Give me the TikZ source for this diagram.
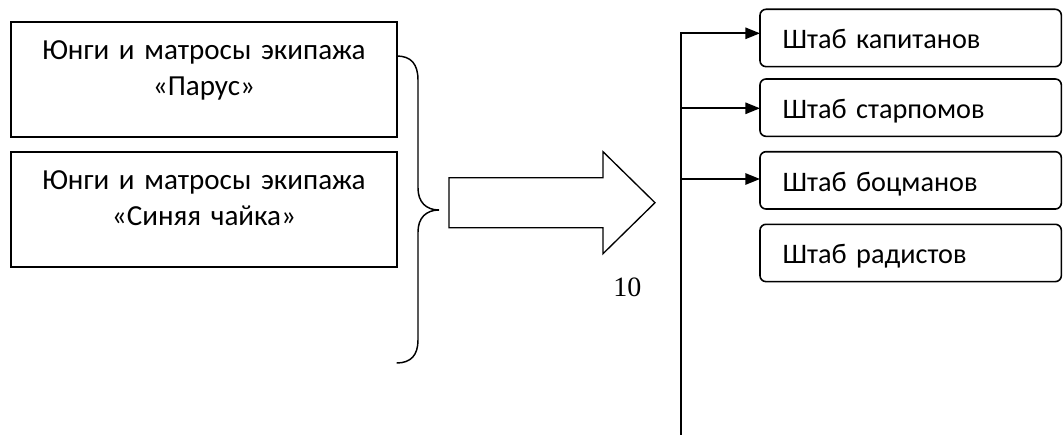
\documentclass[tikz,border=0pt]{standalone}
\usepackage{fontspec}
\setmainfont{Carlito}
\newfontfamily\numfont{Liberation Serif}
\usetikzlibrary{arrows.meta}

\begin{document}
\begin{tikzpicture}[x=0.75pt,y=-0.75pt,
  crewBox/.style={draw,line width=1.5pt,outer sep=0pt,inner xsep=4pt,inner ysep=0pt,
    text width=281.5pt,align=center,text height=28.7pt,text depth=57.55pt,
    font=\fontsize{21.8}{27}\selectfont},
  staffBox/.style={draw,line width=1.2pt,outer sep=0pt,rounded corners=4.5pt,
    inner xsep=17pt,inner ysep=0pt,text width=192pt,align=left,
    text height=29.5pt,text depth=13.5pt,font=\fontsize{21.2}{25}\selectfont},
  feed/.style={line width=1.4pt,-{Triangle[length=11pt,width=8.5pt]}}]
  \useasboundingbox (0,0) rectangle (1064,435);

  \node[crewBox,anchor=north west] (parus) at (11,21.7) {Юнги и матросы экипажа\\«Парус»};
  \node[crewBox,anchor=north west] (chaika) at (11,151.7) {Юнги и матросы экипажа\\«Синяя чайка»};

  \draw[line width=1.1pt] (396.7,56) .. controls (411,56) and (418,64) .. (418,80) -- (418,188)
    .. controls (418,202) and (426,210) .. (439,210)
    .. controls (426,210) and (418,218) .. (418,232) -- (418,340)
    .. controls (418,355) and (411,363) .. (396.7,363);

  \draw[line width=1pt] (449,177.7) -- (603,177.7) -- (603,151.7) -- (655,202.7)
    -- (603,253.7) -- (603,227.7) -- (449,227.7) -- cycle;
  \node[anchor=base west,inner sep=0pt,font=\numfont\fontsize{21}{25}\selectfont] (pageNum) at (613,296) {10};

  \node[staffBox,anchor=north west] (capt) at (760,9.3) {Штаб капитанов};
  \node[staffBox,anchor=north west] (mates) at (760,79) {Штаб старпомов};
  \node[staffBox,anchor=north west] (bosun) at (760,151.7) {Штаб боцманов};
  \node[staffBox,anchor=north west] (radio) at (760,224.3) {Штаб радистов};

  \coordinate (trunkTop) at (680.7,33.3);
  \coordinate (trunkBot) at (680.7,435);
  \coordinate (trunkMid) at (680.7,108.3);
  \coordinate (trunkLow) at (680.7,179);

  \draw[feed] (trunkBot) -- (trunkTop) -- (trunkTop -| capt.west);
  \draw[feed] (trunkMid) -- (trunkMid -| mates.west);
  \draw[feed] (trunkLow) -- (trunkLow -| bosun.west);

\end{tikzpicture}
\end{document}
